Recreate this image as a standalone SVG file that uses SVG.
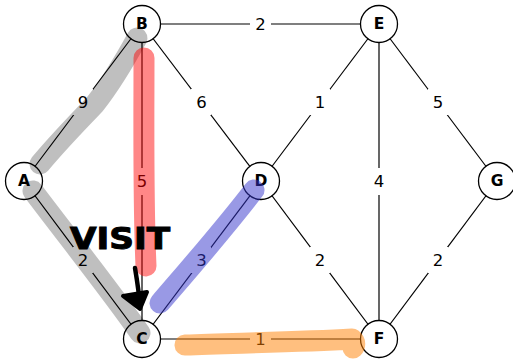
<svg xmlns="http://www.w3.org/2000/svg" width="513" height="360" viewBox="0 0 513 360">
<style>
.edge{stroke:#000;stroke-width:1.2;fill:none}
.lblbg{fill:#fff}
.elbl{font-family:"DejaVu Sans",sans-serif;font-size:16.5px;fill:#000;text-anchor:middle;dominant-baseline:central}
.node circle{fill:#fff;stroke:#000;stroke-width:1.3}
.node text{font-family:"DejaVu Sans",sans-serif;font-size:15.5px;font-weight:bold;fill:#000;text-anchor:middle;dominant-baseline:central}
.hl{fill:none;stroke-linecap:round;stroke-linejoin:round;stroke-width:21}
.ink{stroke:#000;stroke-linecap:round;stroke-linejoin:round}
</style>
<rect width="513" height="360" fill="#fff"/>
<g id="connectors">
<line class="edge" x1="24" y1="181" x2="142" y2="24"/>
<line class="edge" x1="24" y1="181" x2="142" y2="339"/>
<line class="edge" x1="142" y1="24" x2="379" y2="24"/>
<line class="edge" x1="142" y1="24" x2="142" y2="339"/>
<line class="edge" x1="142" y1="24" x2="261" y2="181"/>
<line class="edge" x1="379" y1="24" x2="261" y2="181"/>
<line class="edge" x1="379" y1="24" x2="379" y2="339"/>
<line class="edge" x1="379" y1="24" x2="497" y2="181"/>
<line class="edge" x1="261" y1="181" x2="142" y2="339"/>
<line class="edge" x1="261" y1="181" x2="379" y2="339"/>
<line class="edge" x1="497" y1="181" x2="379" y2="339"/>
<line class="edge" x1="142" y1="339" x2="379" y2="339"/>
<g id="edge-labels">
<rect class="lblbg" x="73" y="89" width="20" height="26"/><text class="elbl" x="83" y="102">9</text>
<rect class="lblbg" x="73" y="247" width="20" height="26"/><text class="elbl" x="83" y="260">2</text>
<rect class="lblbg" x="250" y="11" width="21" height="26"/><text class="elbl" x="260.5" y="24">2</text>
<rect class="lblbg" x="132" y="168" width="20" height="27"/><text class="elbl" x="142" y="181">5</text>
<rect class="lblbg" x="191" y="89" width="20" height="26"/><text class="elbl" x="201.5" y="102">6</text>
<rect class="lblbg" x="310" y="89" width="20" height="26"/><text class="elbl" x="320" y="102">1</text>
<rect class="lblbg" x="369" y="168" width="20" height="27"/><text class="elbl" x="379" y="181">4</text>
<rect class="lblbg" x="428" y="89" width="20" height="26"/><text class="elbl" x="438" y="102">5</text>
<rect class="lblbg" x="191" y="247" width="20" height="26"/><text class="elbl" x="201.5" y="260">3</text>
<rect class="lblbg" x="310" y="247" width="20" height="26"/><text class="elbl" x="320" y="260">2</text>
<rect class="lblbg" x="428" y="247" width="20" height="26"/><text class="elbl" x="438" y="260">2</text>
<rect class="lblbg" x="250" y="326" width="21" height="26"/><text class="elbl" x="260.5" y="339">1</text>
</g>
</g>
<g id="node-A" class="node"><circle cx="24" cy="181" r="18.5"/><text x="24" y="181">A</text></g>
<g id="node-B" class="node"><circle cx="142" cy="24" r="18.5"/><text x="142" y="24">B</text></g>
<g id="node-C" class="node"><circle cx="142" cy="339" r="18.5"/><text x="142" y="339">C</text></g>
<g id="node-D" class="node"><circle cx="261" cy="181" r="18.5"/><text x="261" y="181">D</text></g>
<g id="node-E" class="node"><circle cx="379" cy="24" r="18.5"/><text x="379" y="24">E</text></g>
<g id="node-F" class="node"><circle cx="379" cy="339" r="18.5"/><text x="379" y="339">F</text></g>
<g id="node-G" class="node"><circle cx="497" cy="181" r="18.5"/><text x="497" y="181">G</text></g>
<g id="highlights">
<path class="hl" stroke="#000" stroke-opacity="0.25" d="M40,164 C60,140 80,120 95,104 C110,85 125,60 137,38"/>
<path class="hl" stroke="#000" stroke-opacity="0.25" d="M33,191 C70,240 110,290 140,333"/>
<path class="hl" stroke="#ff0000" stroke-opacity="0.47" stroke-width="23" d="M144,58 C144,120 143,200 146,266"/>
<path class="hl" stroke="#3333cc" stroke-opacity="0.5" d="M160,303 C190,268 225,228 254,190"/>
<path class="hl" stroke="#ff8000" stroke-opacity="0.5" d="M185,345 C240,343 300,342 352,339 C356,342 355,346 353,348"/>
</g>
<g id="annotation">
<text x="120" y="249" font-family="DejaVu Sans, sans-serif" font-size="30" font-weight="bold" text-anchor="middle" textLength="100" lengthAdjust="spacingAndGlyphs" fill="#000" stroke="#000" stroke-width="1">VISIT</text>
<path class="ink" style="fill:none" stroke-width="4.5" d="M135,268 C137,280 139,292 140,306"/>
<path class="ink" style="fill:#000" stroke-width="4" d="M123,296 L147,292 L140,309 Z"/>
</g>
</svg>
